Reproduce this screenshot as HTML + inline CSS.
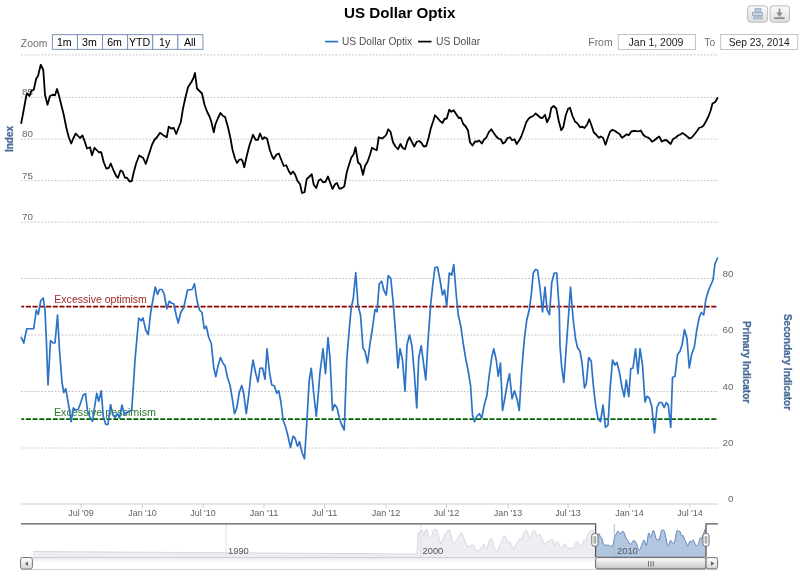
<!DOCTYPE html>
<html><head><meta charset="utf-8"><title>US Dollar Optix</title>
<style>html,body{margin:0;padding:0;background:#fff;}body{width:800px;height:578px;overflow:hidden;font-family:"Liberation Sans",sans-serif;}svg{display:block;will-change:transform;}text{font-family:"Liberation Sans",sans-serif;}</style></head><body>
<svg width="800" height="578" viewBox="0 0 800 578">
<defs>
<linearGradient id="gbtn" x1="0" y1="0" x2="0" y2="1"><stop offset="0" stop-color="#fbfbfb"/><stop offset="1" stop-color="#dcdcdc"/></linearGradient>
<linearGradient id="gbar" x1="0" y1="0" x2="0" y2="1"><stop offset="0" stop-color="#ffffff"/><stop offset="1" stop-color="#c4c4c4"/></linearGradient>
<linearGradient id="gbar2" x1="0" y1="0" x2="0" y2="1"><stop offset="0" stop-color="#ffffff"/><stop offset="1" stop-color="#d6d6d6"/></linearGradient>
<linearGradient id="gtrack" x1="0" y1="0" x2="0" y2="1"><stop offset="0" stop-color="#eaeaf0"/><stop offset="0.45" stop-color="#ffffff"/><stop offset="1" stop-color="#ffffff"/></linearGradient>
<clipPath id="cpsel"><rect x="595.6" y="524" width="110.4" height="33.5"/></clipPath>
<clipPath id="cpout"><rect x="21" y="524" width="574.6" height="33.5"/></clipPath>
</defs>
<rect width="800" height="578" fill="#ffffff"/>
<text x="399.65" y="17.6" text-anchor="middle" font-size="15.2" font-weight="bold" fill="#000">US Dollar Optix</text>
<rect x="747.6" y="5.8" width="20.0" height="16.4" rx="3" ry="3" fill="url(#gbtn)" stroke="#bcbcbc" stroke-width="1"/>
<rect x="770.1" y="5.8" width="19.4" height="16.4" rx="3" ry="3" fill="url(#gbtn)" stroke="#bcbcbc" stroke-width="1"/>
<g fill="#b4cbe2" stroke="#95a3b3" stroke-width="0.7"><rect x="754.9" y="8.6" width="6" height="3.4"/><rect x="752.6" y="12.6" width="10" height="3"/><path d="M754 16.3 L761.6 16.3 L762.4 18.9 L753.2 18.9 Z"/></g>
<path d="M753.6 14.1 L761.6 14.1" stroke="#e8f0f8" stroke-width="0.7"/>
<g fill="#8f8f8f" stroke="none"><rect x="778.65" y="8.6" width="1.7" height="5.6"/><path d="M776.1 12.6 L782.9 12.6 L779.5 17 Z"/><rect x="774.1" y="17.2" width="10.5" height="1.9"/></g>
<text x="20.8" y="46.8" font-size="10.4" fill="#707070">Zoom</text>
<rect x="52.35" y="34.65" width="25.1" height="14.7" fill="#fefefe" stroke="#7190b6" stroke-width="0.95"/>
<text x="64.30" y="45.9" text-anchor="middle" font-size="10.6" fill="#000">1m</text>
<rect x="77.45" y="34.65" width="25.1" height="14.7" fill="#fefefe" stroke="#7190b6" stroke-width="0.95"/>
<text x="89.40" y="45.9" text-anchor="middle" font-size="10.6" fill="#000">3m</text>
<rect x="102.55" y="34.65" width="25.1" height="14.7" fill="#fefefe" stroke="#7190b6" stroke-width="0.95"/>
<text x="114.50" y="45.9" text-anchor="middle" font-size="10.6" fill="#000">6m</text>
<rect x="127.65" y="34.65" width="25.1" height="14.7" fill="#fefefe" stroke="#7190b6" stroke-width="0.95"/>
<text x="139.60" y="45.9" text-anchor="middle" font-size="10.6" fill="#000">YTD</text>
<rect x="152.75" y="34.65" width="25.1" height="14.7" fill="#fefefe" stroke="#7190b6" stroke-width="0.95"/>
<text x="164.70" y="45.9" text-anchor="middle" font-size="10.6" fill="#000">1y</text>
<rect x="177.85" y="34.65" width="25.1" height="14.7" fill="#fefefe" stroke="#7190b6" stroke-width="0.95"/>
<text x="189.80" y="45.9" text-anchor="middle" font-size="10.6" fill="#000">All</text>
<path d="M325 41.6 L338.1 41.6" stroke="#2c72c6" stroke-width="1.7"/>
<text x="342" y="44.9" font-size="10.2" fill="#505050">US Dollar Optix</text>
<path d="M418.1 41.6 L431.5 41.6" stroke="#000" stroke-width="1.7"/>
<text x="436" y="44.9" font-size="10.3" fill="#505050">US Dollar</text>
<text x="588.3" y="45.75" font-size="10.4" fill="#707070">From</text>
<rect x="618.2" y="34.5" width="77.2" height="15" fill="#fff" stroke="#bdbdbd" stroke-width="0.9"/>
<text x="656" y="45.75" text-anchor="middle" font-size="10.5" fill="#1a1a1a">Jan 1, 2009</text>
<text x="704.2" y="45.7" font-size="10.4" fill="#707070">To</text>
<rect x="720.7" y="34.5" width="77.1" height="15" fill="#fff" stroke="#bdbdbd" stroke-width="0.9"/>
<text x="759.2" y="45.65" text-anchor="middle" font-size="10.25" fill="#1a1a1a">Sep 23, 2014</text>
<path d="M21 54.9 L718 54.9" stroke="#c0c0c0" stroke-width="1" stroke-dasharray="1.7,1.68"/>
<path d="M21 97.4 L718 97.4" stroke="#c0c0c0" stroke-width="1" stroke-dasharray="1.7,1.68"/>
<path d="M21 139.1 L718 139.1" stroke="#c0c0c0" stroke-width="1" stroke-dasharray="1.7,1.68"/>
<path d="M21 180.6 L718 180.6" stroke="#c0c0c0" stroke-width="1" stroke-dasharray="1.7,1.68"/>
<path d="M21 222.1 L718 222.1" stroke="#c0c0c0" stroke-width="1" stroke-dasharray="1.7,1.68"/>
<path d="M21 278.5 L718 278.5" stroke="#c0c0c0" stroke-width="1" stroke-dasharray="1.7,1.68"/>
<path d="M21 335 L718 335" stroke="#c0c0c0" stroke-width="1" stroke-dasharray="1.7,1.68"/>
<path d="M21 391.5 L718 391.5" stroke="#c0c0c0" stroke-width="1" stroke-dasharray="1.7,1.68"/>
<path d="M21 448 L718 448" stroke="#c0c0c0" stroke-width="1" stroke-dasharray="1.7,1.68"/>
<text x="22" y="95.4" font-size="9.8" fill="#666">85</text>
<text x="22" y="137.1" font-size="9.8" fill="#666">80</text>
<text x="22" y="178.6" font-size="9.8" fill="#666">75</text>
<text x="22" y="220.1" font-size="9.8" fill="#666">70</text>
<text x="733.4" y="276.5" text-anchor="end" font-size="9.8" fill="#666">80</text>
<text x="733.4" y="333" text-anchor="end" font-size="9.8" fill="#666">60</text>
<text x="733.4" y="389.5" text-anchor="end" font-size="9.8" fill="#666">40</text>
<text x="733.4" y="446" text-anchor="end" font-size="9.8" fill="#666">20</text>
<text x="733.4" y="502" text-anchor="end" font-size="9.8" fill="#666">0</text>
<text transform="translate(13,139) rotate(-90)" text-anchor="middle" font-size="10" font-weight="bold" fill="#486c97" stroke="#486c97" stroke-width="0.3">Index</text>
<text transform="translate(743,362) rotate(90)" text-anchor="middle" font-size="10" font-weight="bold" fill="#486c97" stroke="#486c97" stroke-width="0.3">Primary Indicator</text>
<text transform="translate(784,362) rotate(90)" text-anchor="middle" font-size="10" font-weight="bold" fill="#486c97" stroke="#486c97" stroke-width="0.3">Secondary Indicator</text>
<path d="M21.3 306.6 L718 306.6" stroke="#8b0000" stroke-width="1.75" stroke-dasharray="5.1,1.62" stroke-dashoffset="2.2"/>
<path d="M21.3 419 L718 419" stroke="#006400" stroke-width="1.75" stroke-dasharray="5.1,1.62" stroke-dashoffset="2.2"/>
<text x="54.3" y="303.3" font-size="10.55" fill="#a02828">Excessive optimism</text>
<text x="53.9" y="415.8" font-size="10.75" fill="#2a7c2d">Excessive pessimism</text>
<path d="M21 504 L718 504" stroke="#c0d0e0" stroke-width="1"/>
<path d="M81 504 L81 508" stroke="#c0d0e0" stroke-width="1"/>
<text x="68.20" y="515.5" font-size="9.6" textLength="25.6" lengthAdjust="spacingAndGlyphs" fill="#606060">Jul '09</text>
<path d="M142.5 504 L142.5 508" stroke="#c0d0e0" stroke-width="1"/>
<text x="128.20" y="515.5" font-size="9.6" textLength="28.6" lengthAdjust="spacingAndGlyphs" fill="#606060">Jan '10</text>
<path d="M203 504 L203 508" stroke="#c0d0e0" stroke-width="1"/>
<text x="190.20" y="515.5" font-size="9.6" textLength="25.6" lengthAdjust="spacingAndGlyphs" fill="#606060">Jul '10</text>
<path d="M264 504 L264 508" stroke="#c0d0e0" stroke-width="1"/>
<text x="249.70" y="515.5" font-size="9.6" textLength="28.6" lengthAdjust="spacingAndGlyphs" fill="#606060">Jan '11</text>
<path d="M324.5 504 L324.5 508" stroke="#c0d0e0" stroke-width="1"/>
<text x="311.70" y="515.5" font-size="9.6" textLength="25.6" lengthAdjust="spacingAndGlyphs" fill="#606060">Jul '11</text>
<path d="M386 504 L386 508" stroke="#c0d0e0" stroke-width="1"/>
<text x="371.70" y="515.5" font-size="9.6" textLength="28.6" lengthAdjust="spacingAndGlyphs" fill="#606060">Jan '12</text>
<path d="M446.5 504 L446.5 508" stroke="#c0d0e0" stroke-width="1"/>
<text x="433.70" y="515.5" font-size="9.6" textLength="25.6" lengthAdjust="spacingAndGlyphs" fill="#606060">Jul '12</text>
<path d="M508 504 L508 508" stroke="#c0d0e0" stroke-width="1"/>
<text x="493.70" y="515.5" font-size="9.6" textLength="28.6" lengthAdjust="spacingAndGlyphs" fill="#606060">Jan '13</text>
<path d="M568 504 L568 508" stroke="#c0d0e0" stroke-width="1"/>
<text x="555.20" y="515.5" font-size="9.6" textLength="25.6" lengthAdjust="spacingAndGlyphs" fill="#606060">Jul '13</text>
<path d="M629.5 504 L629.5 508" stroke="#c0d0e0" stroke-width="1"/>
<text x="615.20" y="515.5" font-size="9.6" textLength="28.6" lengthAdjust="spacingAndGlyphs" fill="#606060">Jan '14</text>
<path d="M690 504 L690 508" stroke="#c0d0e0" stroke-width="1"/>
<text x="677.20" y="515.5" font-size="9.6" textLength="25.6" lengthAdjust="spacingAndGlyphs" fill="#606060">Jul '14</text>
<path d="M21.25 337.50 L23.75 343.00 L26.75 328.75 L33.75 328.75 L36.25 310.00 L38.25 314.50 L40.75 300.75 L43.25 298.00 L45.00 310.00 L46.25 337.50 L48.00 385.00 L50.50 340.50 L53.00 343.00 L55.00 343.00 L57.50 315.00 L59.50 350.00 L62.00 382.50 L63.75 392.50 L65.75 388.75 L67.50 398.75 L69.50 410.00 L71.25 421.75 L73.25 408.00 L75.75 410.00 L78.25 409.50 L80.75 402.50 L83.25 395.00 L85.50 393.75 L87.50 410.50 L90.00 417.50 L92.50 421.25 L94.50 407.50 L96.75 393.25 L98.75 401.25 L101.25 390.75 L103.25 416.25 L105.75 424.50 L108.00 424.50 L110.50 404.50 L113.00 415.00 L115.00 417.50 L117.50 413.75 L119.50 418.00 L122.00 405.00 L124.25 414.50 L126.75 412.50 L129.25 411.25 L131.75 410.00 L133.75 380.00 L135.00 360.00 L138.75 318.00 L141.25 320.75 L143.00 318.00 L145.75 330.00 L148.25 334.50 L150.75 312.00 L153.25 298.00 L155.25 287.00 L157.50 294.50 L159.50 289.50 L162.00 289.50 L164.25 294.50 L166.75 308.75 L169.25 301.25 L171.75 303.25 L173.75 303.75 L176.25 315.50 L178.25 323.00 L180.75 312.50 L183.75 307.50 L187.50 290.00 L192.00 289.50 L194.50 283.75 L197.00 300.75 L199.50 310.00 L202.00 312.50 L204.25 328.75 L206.25 326.25 L208.75 337.50 L211.25 343.25 L213.75 367.50 L215.75 376.75 L218.25 365.00 L220.50 357.50 L223.00 363.25 L225.00 365.75 L227.50 377.50 L230.00 385.00 L232.50 400.00 L234.50 413.75 L236.75 408.00 L239.25 392.50 L241.75 385.50 L243.75 393.75 L246.25 413.75 L248.75 395.00 L250.75 376.25 L253.00 360.00 L255.50 372.50 L258.00 382.00 L260.00 368.25 L262.50 368.00 L265.00 379.25 L267.00 348.75 L269.50 372.50 L271.75 385.00 L274.25 385.75 L276.75 393.25 L278.75 390.75 L280.75 401.25 L283.25 420.50 L285.75 427.50 L288.00 436.25 L290.50 447.50 L293.00 436.25 L295.00 438.00 L297.50 446.25 L299.50 441.75 L302.00 452.50 L304.50 458.75 L306.75 423.75 L309.25 380.00 L311.25 368.25 L313.75 393.75 L316.25 416.25 L318.00 397.50 L320.00 372.50 L323.00 348.75 L325.50 373.75 L328.00 337.50 L330.00 357.50 L332.50 410.50 L334.50 404.50 L337.00 407.50 L339.25 417.50 L341.75 425.00 L344.25 430.00 L346.75 360.00 L348.75 335.00 L351.25 307.50 L353.25 298.75 L355.75 272.50 L358.00 305.50 L360.50 315.00 L363.00 348.00 L365.00 351.25 L367.50 363.00 L370.00 343.75 L372.50 328.00 L375.00 309.50 L377.00 311.75 L379.25 283.75 L381.75 281.25 L383.75 290.00 L386.25 295.00 L388.25 275.50 L390.75 278.25 L393.25 303.00 L395.75 335.00 L398.00 368.00 L400.00 348.75 L402.50 360.00 L405.00 391.25 L407.00 345.00 L409.50 335.00 L412.00 346.25 L414.25 372.50 L416.75 408.00 L418.75 357.50 L421.25 345.75 L423.75 365.00 L425.75 380.00 L428.25 337.50 L430.75 303.75 L433.00 282.50 L435.00 267.50 L437.50 267.00 L440.00 280.00 L442.50 295.00 L444.50 290.00 L446.75 306.25 L449.25 273.00 L451.75 275.00 L453.75 264.50 L456.25 295.00 L458.25 315.00 L460.75 325.75 L463.25 343.75 L465.75 358.75 L468.00 370.00 L470.50 385.00 L472.50 415.00 L474.50 421.75 L476.75 416.25 L479.25 413.75 L481.75 418.00 L484.25 405.00 L486.75 396.25 L489.25 375.00 L491.75 357.50 L493.75 348.75 L496.25 360.00 L498.25 376.25 L500.50 363.00 L502.50 410.50 L505.00 397.50 L507.50 382.50 L509.50 373.75 L512.00 398.75 L514.50 390.75 L517.00 398.75 L519.25 410.50 L521.75 370.00 L524.25 340.00 L526.75 320.00 L529.25 310.00 L531.25 295.00 L533.25 273.00 L535.50 269.50 L537.50 270.00 L540.00 288.00 L542.50 312.00 L545.00 287.00 L547.00 309.50 L549.50 314.50 L551.75 282.50 L554.25 273.00 L556.75 273.00 L559.25 310.00 L560.00 346.25 L561.75 367.50 L563.75 382.50 L566.25 347.50 L568.75 312.50 L570.50 287.00 L573.00 317.50 L575.50 338.75 L577.50 347.50 L580.00 351.25 L582.00 362.50 L584.50 388.00 L586.25 383.75 L588.75 357.50 L591.25 361.25 L593.25 385.00 L595.75 406.25 L598.00 418.75 L600.50 421.75 L603.00 405.00 L605.50 427.50 L608.00 425.00 L610.00 390.00 L612.50 360.00 L615.00 365.00 L617.00 362.50 L619.50 372.50 L622.00 387.50 L624.25 396.75 L626.25 380.00 L628.75 396.75 L630.75 368.75 L633.00 368.00 L635.50 348.75 L638.00 373.75 L640.00 348.75 L642.50 365.00 L645.00 402.00 L647.00 396.25 L649.25 398.00 L651.75 406.25 L654.50 433.00 L657.00 407.50 L659.25 402.50 L661.75 402.50 L664.25 407.50 L666.25 402.50 L668.25 405.00 L670.75 427.50 L672.50 377.50 L675.00 376.25 L677.50 354.50 L680.00 351.25 L682.00 345.00 L684.50 329.50 L687.00 338.75 L689.25 368.00 L691.75 353.75 L694.25 347.50 L696.75 330.00 L699.25 317.50 L701.25 312.50 L703.75 315.00 L705.75 300.00 L708.25 291.25 L710.75 285.00 L713.00 280.00 L715.00 263.75 L717.50 258.25" fill="none" stroke="#2c72c6" stroke-width="1.7" stroke-linejoin="round" stroke-linecap="round"/>
<path d="M21.25 123.00 L23.75 109.75 L26.25 96.00 L27.50 93.50 L29.50 96.00 L31.25 91.00 L33.75 89.75 L36.25 78.50 L38.00 76.00 L40.75 64.75 L43.25 69.75 L45.00 94.75 L47.50 104.75 L50.00 96.00 L52.50 94.75 L55.00 95.25 L57.00 89.00 L58.75 94.75 L63.75 114.75 L66.25 127.25 L68.75 137.25 L71.25 143.50 L73.25 138.50 L75.75 133.50 L80.00 138.00 L82.50 135.50 L85.00 142.25 L87.00 148.50 L90.00 147.25 L92.00 155.25 L94.50 147.75 L98.75 152.25 L101.25 152.25 L103.75 162.25 L106.25 168.50 L108.75 168.00 L110.75 163.50 L113.75 171.00 L116.25 176.00 L118.00 177.75 L120.50 170.50 L122.50 171.50 L125.00 177.75 L127.00 177.75 L129.50 181.50 L131.75 181.00 L133.75 172.25 L136.25 163.00 L139.25 155.50 L143.25 158.00 L145.75 164.00 L148.75 154.75 L152.00 144.75 L154.50 139.75 L157.00 137.25 L160.00 132.75 L163.75 135.50 L166.75 137.25 L168.75 126.75 L171.25 128.50 L173.75 128.00 L176.25 134.00 L178.75 127.25 L180.75 122.25 L183.00 108.50 L185.50 97.25 L188.00 87.25 L191.25 82.25 L193.25 78.50 L195.00 73.00 L197.00 88.50 L199.50 91.00 L202.00 93.50 L204.50 104.75 L207.00 111.50 L209.50 116.50 L211.25 121.50 L213.75 132.25 L215.50 124.00 L218.00 118.00 L220.50 113.00 L223.00 116.00 L225.00 116.75 L228.00 127.25 L230.50 138.50 L232.50 149.75 L235.00 158.50 L237.00 163.00 L239.25 159.75 L241.25 159.25 L242.50 161.00 L244.25 167.25 L246.75 156.00 L249.25 146.00 L253.00 134.75 L255.50 139.75 L258.00 139.75 L260.00 133.50 L262.50 139.25 L264.50 137.25 L267.00 138.50 L270.00 150.50 L272.00 156.00 L273.75 159.00 L276.25 154.75 L278.75 153.50 L281.25 159.75 L283.75 166.00 L286.25 165.25 L288.75 171.00 L290.75 174.25 L293.00 171.50 L295.00 174.25 L297.50 181.00 L300.00 184.00 L302.00 193.00 L304.50 192.25 L306.75 179.00 L309.25 176.75 L311.75 174.25 L313.75 184.75 L316.25 188.00 L318.75 180.25 L320.75 179.25 L323.00 182.25 L325.50 181.75 L328.00 176.50 L330.00 182.25 L332.50 189.00 L335.00 184.25 L337.00 183.00 L339.25 188.50 L341.25 188.50 L344.25 186.50 L346.75 172.25 L349.25 164.00 L351.25 157.75 L353.75 154.00 L355.50 147.25 L358.00 162.25 L360.50 164.75 L363.00 174.75 L365.00 166.00 L367.50 161.75 L370.00 154.75 L372.00 147.75 L374.50 149.25 L376.75 150.25 L378.75 137.25 L382.00 138.50 L384.50 136.75 L386.25 134.75 L388.25 129.25 L390.50 131.75 L393.00 142.25 L395.50 146.50 L398.00 149.25 L400.50 144.00 L402.50 147.75 L405.00 149.25 L407.50 141.00 L409.50 137.25 L412.00 142.25 L414.25 146.50 L416.75 141.75 L419.25 141.00 L421.25 142.75 L423.75 146.50 L426.25 146.00 L428.75 137.25 L430.75 128.50 L433.25 121.00 L435.00 115.25 L437.50 118.00 L440.00 121.00 L442.50 123.00 L444.50 119.00 L446.75 118.50 L449.25 109.75 L451.25 111.75 L453.75 110.25 L456.25 114.25 L458.75 118.00 L460.75 117.75 L463.25 124.00 L465.75 126.50 L468.00 130.50 L470.00 142.25 L472.50 145.50 L475.00 141.50 L477.50 141.50 L479.25 140.50 L481.75 143.50 L484.25 139.25 L486.25 137.75 L488.75 132.25 L491.25 129.25 L493.75 133.00 L496.25 136.50 L498.25 138.50 L500.75 139.25 L503.00 143.50 L505.00 142.25 L507.50 138.00 L510.00 137.25 L512.00 140.25 L514.50 139.25 L516.75 144.00 L519.25 140.25 L521.25 136.50 L523.75 129.75 L526.25 122.25 L528.75 118.50 L531.25 116.75 L533.25 116.00 L535.50 113.50 L538.00 115.50 L540.50 117.75 L542.50 118.00 L545.00 114.75 L547.00 122.25 L549.50 117.25 L551.25 108.00 L553.75 106.00 L556.25 108.50 L558.75 121.00 L561.25 130.25 L563.25 127.25 L565.75 115.25 L568.00 109.00 L570.00 107.75 L572.50 116.00 L575.00 121.50 L577.50 123.50 L580.00 127.25 L582.50 126.75 L584.50 128.00 L587.00 124.75 L589.25 119.25 L591.25 124.75 L593.75 132.25 L596.25 134.75 L598.75 137.75 L600.75 136.50 L603.00 137.75 L605.50 144.75 L608.00 137.25 L610.00 131.75 L612.50 129.75 L615.00 131.00 L617.50 132.75 L619.50 134.00 L622.00 137.75 L624.50 136.00 L626.75 134.25 L628.75 135.25 L631.25 131.50 L633.75 131.00 L636.25 131.00 L638.25 131.50 L640.75 130.50 L643.25 134.75 L645.50 136.75 L647.50 137.25 L650.00 139.00 L652.00 141.75 L654.50 140.25 L657.00 138.00 L659.25 136.50 L661.75 141.50 L663.75 140.50 L666.25 140.00 L668.75 142.25 L670.75 144.00 L673.00 139.00 L675.50 137.75 L678.00 135.50 L680.00 134.75 L682.50 133.00 L685.00 134.75 L687.50 136.75 L689.50 138.50 L692.00 137.25 L694.50 134.25 L697.00 131.00 L699.25 127.75 L701.25 127.25 L703.25 126.00 L705.75 121.75 L708.25 116.75 L710.50 111.00 L712.50 103.50 L715.00 102.25 L717.50 98.00" fill="none" stroke="#000" stroke-width="1.8" stroke-linejoin="round" stroke-linecap="round"/>
<g clip-path="url(#cpout)">
<path d="M33.00 551.50 L417.00 554.00 L417.00 554.00 L418.00 533.00 L420.00 532.00 L422.00 530.00 L423.60 536.00 L425.60 530.00 L427.00 529.40 L428.40 536.00 L430.00 538.60 L431.60 537.00 L433.00 531.00 L435.00 529.00 L437.00 530.00 L439.00 538.00 L440.60 544.00 L442.40 541.00 L445.00 534.00 L447.00 532.00 L449.00 529.40 L451.00 535.00 L452.40 542.00 L454.00 543.00 L456.00 541.00 L458.00 538.00 L460.00 534.00 L461.60 532.60 L463.60 537.00 L465.60 543.00 L467.60 547.00 L469.60 546.00 L471.60 545.00 L473.60 545.00 L475.60 550.00 L478.00 551.00 L480.00 550.00 L482.00 547.00 L484.00 544.00 L485.60 548.00 L487.00 549.00 L489.00 541.00 L491.00 538.60 L492.40 541.00 L494.00 548.00 L496.00 550.60 L498.00 551.00 L500.00 545.00 L502.00 540.00 L504.00 536.00 L506.00 537.00 L508.00 543.00 L510.00 542.00 L512.00 546.00 L514.00 549.00 L516.00 545.00 L518.00 541.00 L520.00 538.62 L521.25 539.88 L522.50 536.75 L524.38 531.75 L526.25 529.88 L527.50 531.12 L528.75 536.75 L530.00 538.00 L531.88 533.62 L533.12 531.12 L534.38 530.25 L535.62 532.38 L536.88 536.75 L538.50 534.88 L540.00 534.25 L541.25 536.75 L542.50 539.88 L543.75 543.00 L545.00 544.88 L546.25 542.38 L548.12 541.12 L550.00 540.50 L551.88 539.25 L553.12 541.12 L554.38 544.88 L556.25 542.38 L557.50 541.75 L558.75 543.62 L560.00 546.75 L561.88 548.00 L563.12 546.12 L564.38 543.62 L565.62 544.88 L566.88 547.38 L568.75 548.00 L570.00 548.00 L571.88 548.62 L573.75 548.00 L575.00 544.25 L576.88 541.75 L578.12 542.38 L579.38 545.50 L580.62 547.38 L581.88 544.88 L583.12 541.12 L584.38 540.50 L585.62 541.12 L586.88 538.00 L588.12 533.62 L589.38 531.75 L590.62 531.12 L591.88 529.88 L593.12 530.50 L594.00 533.62 L596.00 536.52 L596.00 557.0 L33.00 557.0 Z" fill="#ededf4" stroke="none"/>
<path d="M33.00 551.50 L417.00 554.00 L417.00 554.00 L418.00 533.00 L420.00 532.00 L422.00 530.00 L423.60 536.00 L425.60 530.00 L427.00 529.40 L428.40 536.00 L430.00 538.60 L431.60 537.00 L433.00 531.00 L435.00 529.00 L437.00 530.00 L439.00 538.00 L440.60 544.00 L442.40 541.00 L445.00 534.00 L447.00 532.00 L449.00 529.40 L451.00 535.00 L452.40 542.00 L454.00 543.00 L456.00 541.00 L458.00 538.00 L460.00 534.00 L461.60 532.60 L463.60 537.00 L465.60 543.00 L467.60 547.00 L469.60 546.00 L471.60 545.00 L473.60 545.00 L475.60 550.00 L478.00 551.00 L480.00 550.00 L482.00 547.00 L484.00 544.00 L485.60 548.00 L487.00 549.00 L489.00 541.00 L491.00 538.60 L492.40 541.00 L494.00 548.00 L496.00 550.60 L498.00 551.00 L500.00 545.00 L502.00 540.00 L504.00 536.00 L506.00 537.00 L508.00 543.00 L510.00 542.00 L512.00 546.00 L514.00 549.00 L516.00 545.00 L518.00 541.00 L520.00 538.62 L521.25 539.88 L522.50 536.75 L524.38 531.75 L526.25 529.88 L527.50 531.12 L528.75 536.75 L530.00 538.00 L531.88 533.62 L533.12 531.12 L534.38 530.25 L535.62 532.38 L536.88 536.75 L538.50 534.88 L540.00 534.25 L541.25 536.75 L542.50 539.88 L543.75 543.00 L545.00 544.88 L546.25 542.38 L548.12 541.12 L550.00 540.50 L551.88 539.25 L553.12 541.12 L554.38 544.88 L556.25 542.38 L557.50 541.75 L558.75 543.62 L560.00 546.75 L561.88 548.00 L563.12 546.12 L564.38 543.62 L565.62 544.88 L566.88 547.38 L568.75 548.00 L570.00 548.00 L571.88 548.62 L573.75 548.00 L575.00 544.25 L576.88 541.75 L578.12 542.38 L579.38 545.50 L580.62 547.38 L581.88 544.88 L583.12 541.12 L584.38 540.50 L585.62 541.12 L586.88 538.00 L588.12 533.62 L589.38 531.75 L590.62 531.12 L591.88 529.88 L593.12 530.50 L594.00 533.62 L596.00 536.52" fill="none" stroke="#d5d9e0" stroke-width="1"/>
</g>
<path d="M226 524 L226 557" stroke="#e0e0e0" stroke-width="1"/>
<path d="M420.7 524 L420.7 557" stroke="#e0e0e0" stroke-width="1"/>
<path d="M614.3 524 L614.3 557" stroke="#e0e0e0" stroke-width="1"/>
<g clip-path="url(#cpsel)">
<path d="M596.00 536.52 L596.50 536.28 L597.00 536.04 L597.50 535.38 L598.00 534.62 L598.50 533.81 L599.00 533.68 L599.50 534.97 L600.00 535.77 L600.50 536.75 L601.00 537.44 L601.50 537.77 L602.00 538.90 L602.50 540.45 L603.00 542.94 L603.50 544.45 L604.00 545.04 L604.50 545.34 L605.00 544.96 L605.50 544.71 L606.00 544.90 L606.50 545.14 L607.00 545.12 L607.50 545.17 L608.00 545.02 L608.50 545.11 L609.00 545.39 L609.50 545.76 L610.00 546.31 L610.50 546.21 L611.00 545.80 L611.50 545.91 L612.00 545.81 L612.50 545.66 L613.00 544.50 L613.50 542.41 L614.00 539.88 L614.50 537.45 L615.00 535.71 L615.50 534.83 L616.00 534.19 L616.50 533.42 L617.00 532.41 L617.50 531.38 L618.00 531.31 L618.50 531.63 L619.00 531.93 L619.50 532.53 L620.00 533.17 L620.50 533.29 L621.00 533.27 L621.50 532.85 L622.00 532.07 L622.50 531.31 L623.00 531.18 L623.50 531.64 L624.00 532.58 L624.50 533.74 L625.00 535.01 L625.50 536.51 L626.00 538.03 L626.50 538.92 L627.00 539.63 L627.50 540.21 L628.00 540.48 L628.50 541.42 L629.00 542.81 L629.50 543.62 L630.00 543.91 L630.50 544.31 L631.00 544.01 L631.50 543.10 L632.00 542.53 L632.50 542.09 L633.00 541.02 L633.50 540.78 L634.00 540.58 L634.50 540.66 L635.00 541.01 L635.50 541.60 L636.00 542.41 L636.50 543.81 L637.00 545.06 L637.50 546.53 L638.00 547.79 L638.50 548.69 L639.00 549.21 L639.50 549.65 L640.00 549.69 L640.50 548.49 L641.00 546.63 L641.50 545.47 L642.00 543.85 L642.50 542.30 L643.00 541.96 L643.50 540.86 L644.00 539.90 L644.50 540.67 L645.00 542.11 L645.50 543.67 L646.00 545.83 L646.50 545.06 L647.00 542.86 L647.50 539.73 L648.00 535.89 L648.50 533.20 L649.00 533.08 L649.50 534.29 L650.00 536.12 L650.50 537.05 L651.00 536.82 L651.50 535.38 L652.00 533.32 L652.50 531.95 L653.00 530.89 L653.50 530.19 L654.00 530.97 L654.50 532.86 L655.00 534.56 L655.50 537.18 L656.00 538.84 L656.50 538.95 L657.00 538.91 L657.50 539.90 L658.00 539.35 L658.50 539.78 L659.00 540.48 L659.50 539.13 L660.00 536.69 L660.50 534.50 L661.00 531.88 L661.50 530.15 L662.00 529.77 L662.50 530.13 L663.00 530.31 L663.50 530.11 L664.00 530.49 L664.50 531.21 L665.00 533.10 L665.50 535.66 L666.00 538.23 L666.50 540.93 L667.00 543.14 L667.50 544.73 L668.00 545.81 L668.50 545.71 L669.00 544.55 L669.50 542.94 L670.00 541.31 L670.50 540.38 L671.00 540.45 L671.50 541.34 L672.00 542.09 L672.50 542.76 L673.00 543.34 L673.50 543.23 L674.00 543.16 L674.50 542.20 L675.00 540.12 L675.50 537.59 L676.00 534.15 L676.50 531.62 L677.00 530.46 L677.50 530.25 L678.00 530.57 L678.50 531.63 L679.00 531.76 L679.50 530.99 L680.00 531.37 L680.50 532.92 L681.00 534.78 L681.50 535.96 L682.00 536.41 L682.50 536.09 L683.00 535.34 L683.50 535.77 L684.00 538.03 L684.50 539.55 L685.00 540.05 L685.50 541.06 L686.00 542.23 L686.50 543.21 L687.00 544.57 L687.50 546.08 L688.00 546.03 L688.50 544.58 L689.00 543.20 L689.50 541.85 L690.00 540.99 L690.50 541.28 L691.00 541.99 L691.50 542.07 L692.00 541.42 L692.50 540.66 L693.00 539.87 L693.50 540.20 L694.00 541.10 L694.50 542.32 L695.00 544.16 L695.50 545.23 L696.00 545.31 L696.50 545.51 L697.00 545.28 L697.50 545.13 L698.00 544.57 L698.50 543.59 L699.00 542.15 L699.50 540.38 L700.00 538.36 L700.50 537.90 L701.00 537.84 L701.50 537.65 L702.00 537.34 L702.50 536.54 L703.00 535.10 L703.50 533.58 L704.00 532.31 L704.50 531.09 L705.00 529.60 L705.50 528.48 L706.00 527.66 L706.00 557.0 L596.00 557.0 Z" fill="#b2c6e0" stroke="none"/>
<path d="M596.00 536.52 L596.50 536.28 L597.00 536.04 L597.50 535.38 L598.00 534.62 L598.50 533.81 L599.00 533.68 L599.50 534.97 L600.00 535.77 L600.50 536.75 L601.00 537.44 L601.50 537.77 L602.00 538.90 L602.50 540.45 L603.00 542.94 L603.50 544.45 L604.00 545.04 L604.50 545.34 L605.00 544.96 L605.50 544.71 L606.00 544.90 L606.50 545.14 L607.00 545.12 L607.50 545.17 L608.00 545.02 L608.50 545.11 L609.00 545.39 L609.50 545.76 L610.00 546.31 L610.50 546.21 L611.00 545.80 L611.50 545.91 L612.00 545.81 L612.50 545.66 L613.00 544.50 L613.50 542.41 L614.00 539.88 L614.50 537.45 L615.00 535.71 L615.50 534.83 L616.00 534.19 L616.50 533.42 L617.00 532.41 L617.50 531.38 L618.00 531.31 L618.50 531.63 L619.00 531.93 L619.50 532.53 L620.00 533.17 L620.50 533.29 L621.00 533.27 L621.50 532.85 L622.00 532.07 L622.50 531.31 L623.00 531.18 L623.50 531.64 L624.00 532.58 L624.50 533.74 L625.00 535.01 L625.50 536.51 L626.00 538.03 L626.50 538.92 L627.00 539.63 L627.50 540.21 L628.00 540.48 L628.50 541.42 L629.00 542.81 L629.50 543.62 L630.00 543.91 L630.50 544.31 L631.00 544.01 L631.50 543.10 L632.00 542.53 L632.50 542.09 L633.00 541.02 L633.50 540.78 L634.00 540.58 L634.50 540.66 L635.00 541.01 L635.50 541.60 L636.00 542.41 L636.50 543.81 L637.00 545.06 L637.50 546.53 L638.00 547.79 L638.50 548.69 L639.00 549.21 L639.50 549.65 L640.00 549.69 L640.50 548.49 L641.00 546.63 L641.50 545.47 L642.00 543.85 L642.50 542.30 L643.00 541.96 L643.50 540.86 L644.00 539.90 L644.50 540.67 L645.00 542.11 L645.50 543.67 L646.00 545.83 L646.50 545.06 L647.00 542.86 L647.50 539.73 L648.00 535.89 L648.50 533.20 L649.00 533.08 L649.50 534.29 L650.00 536.12 L650.50 537.05 L651.00 536.82 L651.50 535.38 L652.00 533.32 L652.50 531.95 L653.00 530.89 L653.50 530.19 L654.00 530.97 L654.50 532.86 L655.00 534.56 L655.50 537.18 L656.00 538.84 L656.50 538.95 L657.00 538.91 L657.50 539.90 L658.00 539.35 L658.50 539.78 L659.00 540.48 L659.50 539.13 L660.00 536.69 L660.50 534.50 L661.00 531.88 L661.50 530.15 L662.00 529.77 L662.50 530.13 L663.00 530.31 L663.50 530.11 L664.00 530.49 L664.50 531.21 L665.00 533.10 L665.50 535.66 L666.00 538.23 L666.50 540.93 L667.00 543.14 L667.50 544.73 L668.00 545.81 L668.50 545.71 L669.00 544.55 L669.50 542.94 L670.00 541.31 L670.50 540.38 L671.00 540.45 L671.50 541.34 L672.00 542.09 L672.50 542.76 L673.00 543.34 L673.50 543.23 L674.00 543.16 L674.50 542.20 L675.00 540.12 L675.50 537.59 L676.00 534.15 L676.50 531.62 L677.00 530.46 L677.50 530.25 L678.00 530.57 L678.50 531.63 L679.00 531.76 L679.50 530.99 L680.00 531.37 L680.50 532.92 L681.00 534.78 L681.50 535.96 L682.00 536.41 L682.50 536.09 L683.00 535.34 L683.50 535.77 L684.00 538.03 L684.50 539.55 L685.00 540.05 L685.50 541.06 L686.00 542.23 L686.50 543.21 L687.00 544.57 L687.50 546.08 L688.00 546.03 L688.50 544.58 L689.00 543.20 L689.50 541.85 L690.00 540.99 L690.50 541.28 L691.00 541.99 L691.50 542.07 L692.00 541.42 L692.50 540.66 L693.00 539.87 L693.50 540.20 L694.00 541.10 L694.50 542.32 L695.00 544.16 L695.50 545.23 L696.00 545.31 L696.50 545.51 L697.00 545.28 L697.50 545.13 L698.00 544.57 L698.50 543.59 L699.00 542.15 L699.50 540.38 L700.00 538.36 L700.50 537.90 L701.00 537.84 L701.50 537.65 L702.00 537.34 L702.50 536.54 L703.00 535.10 L703.50 533.58 L704.00 532.31 L704.50 531.09 L705.00 529.60 L705.50 528.48 L706.00 527.66" fill="none" stroke="#5f86bd" stroke-width="1"/>
</g>
<path d="M614.3 524 L614.3 557" stroke="#9fb2cc" stroke-width="1" opacity="0.6"/>
<text x="228" y="553.5" font-size="9.35" fill="#555">1990</text>
<text x="422.5" y="553.5" font-size="9.35" fill="#555">2000</text>
<text x="617" y="553.5" font-size="9.35" fill="#555">2010</text>
<path d="M21 523.9 L595.6 523.9 L595.6 557.3 L706 557.3 L706 523.9 L718 523.9" fill="none" stroke="#585858" stroke-width="1.3"/>
<rect x="21" y="557.5" width="697" height="12" fill="url(#gtrack)" stroke="none"/>
<path d="M21 557.5 L718 557.5 M21 569.5 L718 569.5" stroke="#d0d0d0" stroke-width="1"/>
<rect x="595.6" y="557.6" width="110.4" height="11.3" rx="2" fill="url(#gbar)" stroke="#666" stroke-width="1"/>
<path d="M648.5 561 L648.5 566.5 M650.9 561 L650.9 566.5 M653.3 561 L653.3 566.5" stroke="#666" stroke-width="0.9"/>
<rect x="20.5" y="557.5" width="11.9" height="11.6" rx="2.3" fill="url(#gbar2)" stroke="#777" stroke-width="1"/>
<path d="M27.9 561.6 L27.9 565.9 L25.2 563.75 Z" fill="#505050"/>
<rect x="706" y="557.6" width="11.6" height="11.2" rx="2.3" fill="url(#gbar2)" stroke="#777" stroke-width="1"/>
<path d="M711.1 561.3 L711.1 565.7 L714 563.5 Z" fill="#505050"/>
<rect x="591.8" y="533.6" width="6.2" height="12.6" rx="2.3" fill="#fff" stroke="#606060" stroke-width="0.9"/>
<path d="M594.1 536.2 L594.1 543.6 M595.6999999999999 536.2 L595.6999999999999 543.6" stroke="#8a8a8a" stroke-width="1"/>
<rect x="702.9" y="533.6" width="6.2" height="12.6" rx="2.3" fill="#fff" stroke="#606060" stroke-width="0.9"/>
<path d="M705.2 536.2 L705.2 543.6 M706.8 536.2 L706.8 543.6" stroke="#8a8a8a" stroke-width="1"/>
</svg></body></html>
